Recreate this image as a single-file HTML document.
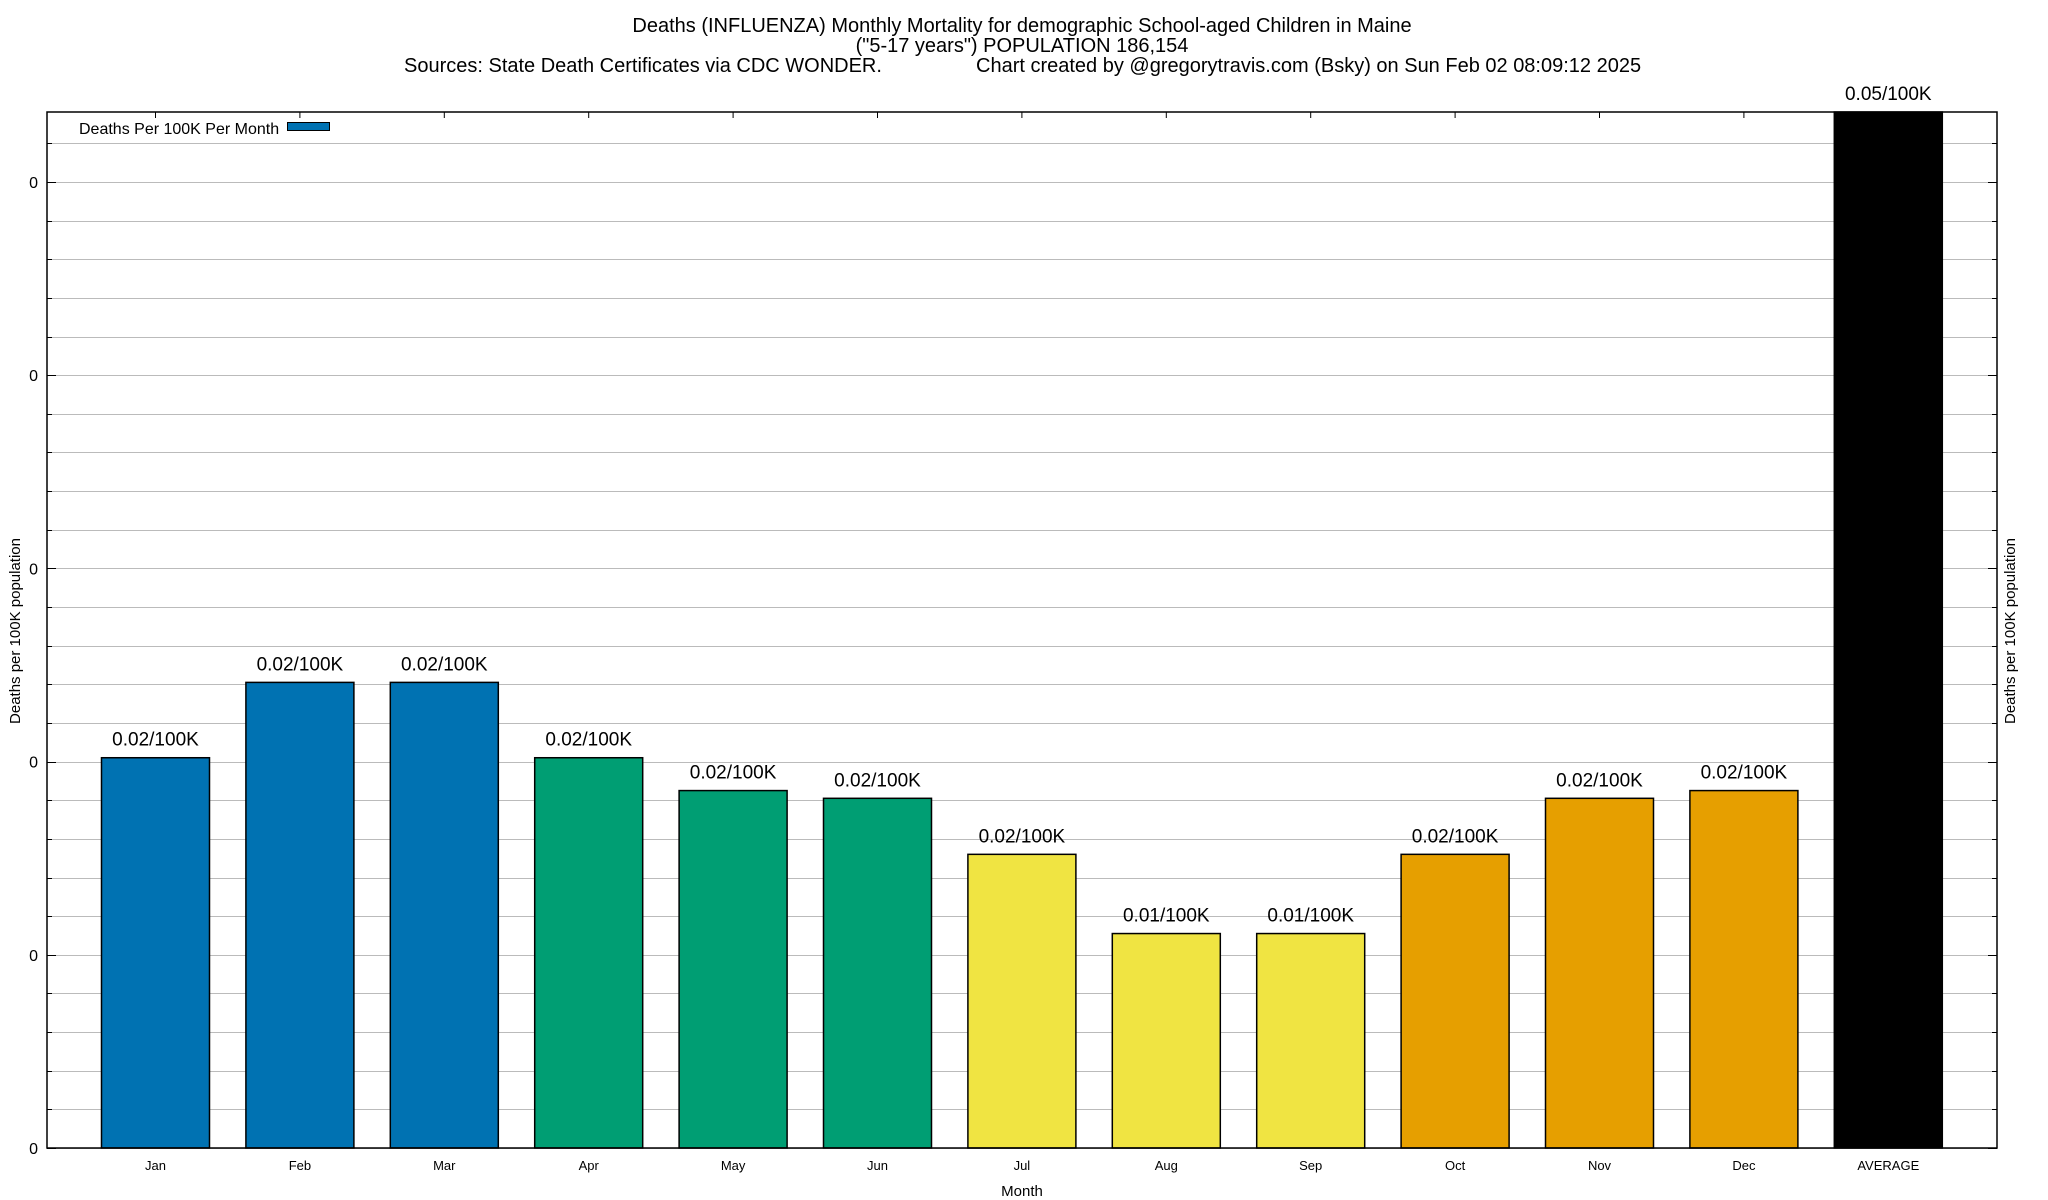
<!DOCTYPE html>
<html><head><meta charset="utf-8"><style>
html,body{margin:0;padding:0;background:#fff;}
svg{display:block;font-family:"Liberation Sans",Arial,sans-serif;}
</style></head><body>
<svg id="chart" width="2048" height="1200" viewBox="0 0 2048 1200" xmlns="http://www.w3.org/2000/svg">
<g font-size="20" text-anchor="middle" fill="#000">
<text x="1022" y="32">Deaths (INFLUENZA) Monthly Mortality for demographic School-aged Children in Maine</text>
<text x="1022" y="52">("5-17 years") POPULATION 186,154</text>
<text x="404" y="72" text-anchor="start">Sources: State Death Certificates via CDC WONDER.</text>
<text x="976" y="72" text-anchor="start">Chart created by @gregorytravis.com (Bsky) on Sun Feb 02 08:09:12 2025</text>
</g>
<g id="grid"></g>
<g id="bars"></g>
<g id="axes"></g>
<text x="16" y="631" transform="rotate(-90 16 631)" text-anchor="middle" dominant-baseline="middle" font-size="15">Deaths per 100K population</text>
<text x="2011" y="631" transform="rotate(-90 2011 631)" text-anchor="middle" dominant-baseline="middle" font-size="15">Deaths per 100K population</text>
<text x="1022" y="1196" text-anchor="middle" font-size="15">Month</text>
<g>
<text x="79" y="134" font-size="16">Deaths Per 100K Per Month</text>
<rect x="287.5" y="122.5" width="42" height="8" fill="#0072b2" stroke="#000" stroke-width="1"/>
</g>
</svg>
<script>
const categories = ["Jan","Feb","Mar","Apr","May","Jun","Jul","Aug","Sep","Oct","Nov","Dec","AVERAGE"];
const values = [0.0202,0.0241,0.0241,0.0202,0.0185,0.0181,0.0152,0.0111,0.0111,0.0152,0.0181,0.0185,0.0545];
const valueLabels = ["0.02/100K","0.02/100K","0.02/100K","0.02/100K","0.02/100K","0.02/100K","0.02/100K","0.01/100K","0.01/100K","0.02/100K","0.02/100K","0.02/100K","0.05/100K"];
const barColors = ["#0072b2","#0072b2","#0072b2","#009e73","#009e73","#009e73","#f0e442","#f0e442","#f0e442","#e69f00","#e69f00","#e69f00","#000000"];
const yTickValues = [0,0.01,0.02,0.03,0.04,0.05];
const yTickLabels = ["0","0","0","0","0","0"];

const L=47,R=1997,T=112,B=1148;
const YMAX=(B-T)/19320;
const y=v=>B-(v/YMAX)*(B-T);
const step=144.4, x0=155.5;
const x=i=>x0+i*step;
const bw=108;
const NS="http://www.w3.org/2000/svg";
function mk(tag,attrs,parent){const e=document.createElementNS(NS,tag);for(const k in attrs)e.setAttribute(k,attrs[k]);parent.appendChild(e);return e;}
const grid=document.getElementById('grid'),bars=document.getElementById('bars'),axes=document.getElementById('axes');
for(let k=0;;k++){const v=k*0.002;if(v>YMAX)break;const yy=Math.round(y(v))+0.5;
 const g=mk('line',{x1:L,x2:R,y1:yy,y2:yy,stroke:'#bbbbbb','stroke-width':1},grid);
 
 
 const major=(k%5===0);const len=major?9:5;
 const t1=mk('line',{x1:L,x2:L+len,y1:yy,y2:yy,stroke:'#000','stroke-width':1},axes);
 
 
 const t2=mk('line',{x1:R-len,x2:R,y1:yy,y2:yy,stroke:'#000','stroke-width':1},axes);
 
 
}
yTickValues.forEach((v,i)=>{const t=mk('text',{x:38,y:y(v)+6,'text-anchor':'end','font-size':16},axes);t.textContent=yTickLabels[i];
 
 });
categories.forEach((c,i)=>{
 const top=Math.max(y(values[i]),T);
 const r=mk('rect',{x:x(i)-bw/2,y:top,width:bw,height:B-top,fill:barColors[i],stroke:'#000','stroke-width':1.5},bars);
 
 
 const lt=mk('text',{x:x(i),y:top-12,'text-anchor':'middle','font-size':19},bars);lt.textContent=valueLabels[i];
 
 
 const xt=mk('text',{x:x(i),y:1170,'text-anchor':'middle','font-size':13},axes);xt.textContent=c;
 
 
 const tk=mk('line',{x1:x(i),x2:x(i),y1:T,y2:T+6,stroke:'#000','stroke-width':1},axes);
 
 
});
const fr=mk('rect',{x:L,y:T,width:R-L,height:B-T,fill:'none',stroke:'#000','stroke-width':1.5},axes);


</script>
</body></html>
